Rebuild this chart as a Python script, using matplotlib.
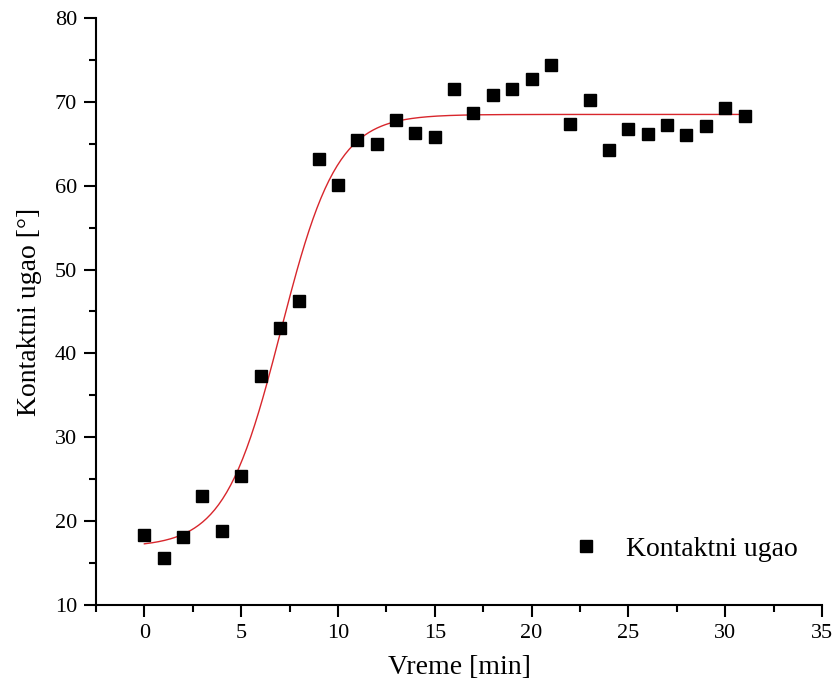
import numpy as np
import matplotlib
matplotlib.use('Agg')
import matplotlib.pyplot as plt
from matplotlib.ticker import MultipleLocator

# Measured contact angle over time
time_min = [0, 1, 2, 3, 4, 5, 6, 7, 8, 9, 10, 11, 12, 13, 14, 15,
            16, 17, 18, 19, 20, 21, 22, 23, 24, 25, 26, 27, 28, 29, 30, 31]
angle_deg = [18.3, 15.6, 18.1, 23.0, 18.8, 25.4, 37.3, 43.0, 46.3, 63.2,
             60.1, 65.4, 65.0, 67.8, 66.3, 65.8, 71.5, 68.7, 70.8, 71.5,
             72.7, 74.4, 67.3, 70.2, 64.3, 66.8, 66.2, 67.2, 66.1, 67.1,
             69.3, 68.3]

# Boltzmann sigmoid fit parameters
A1, A2, X0, DX = 16.9, 68.5, 7.05, 1.45


def boltzmann(x):
    return A2 + (A1 - A2) / (1 + np.exp((x - X0) / DX))


plt.rcParams['font.family'] = 'Liberation Serif'

fig = plt.figure(figsize=(8.36, 6.95), dpi=100)
ax = fig.add_axes([0.1148, 0.1295, 0.8684, 0.8446])

ax.plot(time_min, angle_deg, 's', color='black', markersize=9.3,
        label='Kontaktni ugao', zorder=3)

xfit = np.linspace(time_min[0], time_min[-1], 300)
ax.plot(xfit, boltzmann(xfit), color='#d8262c', lw=1.0, zorder=2)

ax.set_xlim(-2.5, 35)
ax.set_ylim(10, 80)
ax.xaxis.set_major_locator(MultipleLocator(5))
ax.xaxis.set_minor_locator(MultipleLocator(2.5))
ax.yaxis.set_major_locator(MultipleLocator(10))
ax.yaxis.set_minor_locator(MultipleLocator(5))

for side in ('top', 'right'):
    ax.spines[side].set_visible(False)
for side in ('left', 'bottom'):
    ax.spines[side].set_linewidth(1.5)

ax.tick_params(which='major', direction='out', length=8.5, width=1.5,
               labelsize=16, pad=5)
ax.tick_params(which='minor', direction='out', length=5, width=1.5)

ax.set_xlabel('Vreme [min]', fontsize=20, labelpad=9)
ax.set_ylabel('Kontaktni ugao [°]', fontsize=20, labelpad=9)

ax.legend(loc='center left', bbox_to_anchor=(0.6556, 0.0954), frameon=False,
          fontsize=20, numpoints=1, borderpad=0, borderaxespad=0,
          handlelength=1.0, handletextpad=0.93)

fig.savefig('out.png', dpi=100, facecolor='white')
